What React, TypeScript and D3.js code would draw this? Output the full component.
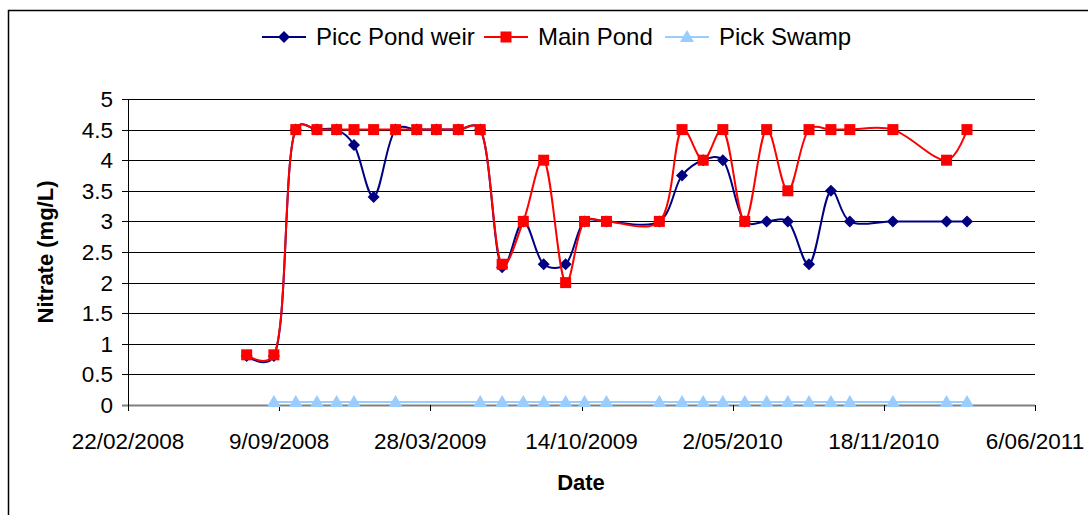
import React from "react";
import * as d3 from "d3";

// sample dates shared by Picc Pond weir and Main Pond
const sampleDates = [
  "28/07/2008", "02/09/2008", "01/10/2008", "29/10/2008", "24/11/2008", "17/12/2008",
  "12/01/2009", "10/02/2009", "10/03/2009", "05/04/2009", "04/05/2009", "02/06/2009",
  "01/07/2009", "29/07/2009", "25/08/2009", "23/09/2009", "18/10/2009", "16/11/2009",
  "25/01/2010", "24/02/2010", "24/03/2010", "19/04/2010", "18/05/2010", "16/06/2010",
  "14/07/2010", "11/08/2010", "09/09/2010", "04/10/2010", "30/11/2010", "09/02/2011",
  "08/03/2011",
];
const piccPondWeir = [
  0.8, 0.8, 4.5, 4.5, 4.5, 4.25, 3.4, 4.5, 4.5, 4.5, 4.5, 4.5, 2.25, 3, 2.3, 2.3, 3, 3,
  3, 3.75, 4, 4, 3, 3, 3, 2.3, 3.5, 3, 3, 3, 3,
];
const mainPond = [
  0.82, 0.82, 4.5, 4.5, 4.5, 4.5, 4.5, 4.5, 4.5, 4.5, 4.5, 4.5, 2.3, 3, 4, 2, 3, 3,
  3, 4.5, 4, 4.5, 3, 4.5, 3.5, 4.5, 4.5, 4.5, 4.5, 4, 4.5,
];
const pickSwampDates = [
  "02/09/2008", "01/10/2008", "29/10/2008", "24/11/2008", "17/12/2008", "10/02/2009",
  "02/06/2009", "01/07/2009", "29/07/2009", "25/08/2009", "23/09/2009", "18/10/2009",
  "16/11/2009", "25/01/2010", "24/02/2010", "24/03/2010", "19/04/2010", "18/05/2010",
  "16/06/2010", "14/07/2010", "11/08/2010", "09/09/2010", "04/10/2010", "30/11/2010",
  "09/02/2011", "08/03/2011",
];
const pickSwamp = [
  0.05, 0.05, 0.05, 0.05, 0.05, 0.05, 0.05, 0.05, 0.05, 0.05, 0.05, 0.05, 0.05,
  0.05, 0.05, 0.05, 0.05, 0.05, 0.05, 0.05, 0.05, 0.05, 0.05, 0.05, 0.05, 0.05,
];
const xTickDates = [
  "22/02/2008", "9/09/2008", "28/03/2009", "14/10/2009", "2/05/2010", "18/11/2010", "6/06/2011",
];
const yTicks = [0, 0.5, 1, 1.5, 2, 2.5, 3, 3.5, 4, 4.5, 5];

const parse = d3.timeParse("%d/%m/%Y");
const fmt = d3.timeFormat("%-d/%m/%Y");
const FONT = "'Liberation Sans', Arial, sans-serif";

type Pt = { date: Date; value: number };

const zip = (dates: string[], vals: number[]): Pt[] =>
  dates.map((d, i) => ({ date: parse(d) as Date, value: vals[i] }));

const series = [
  { name: "Picc Pond weir", color: "#000080", shape: "diamond", data: zip(sampleDates, piccPondWeir) },
  { name: "Main Pond", color: "#FF0000", shape: "square", data: zip(sampleDates, mainPond) },
  { name: "Pick Swamp", color: "#99CCFF", shape: "triangle", data: zip(pickSwampDates, pickSwamp) },
];

function Marker({ shape, x, y, color }: { shape: string; x: number; y: number; color: string }) {
  if (shape === "square") return <rect x={x - 5.5} y={y - 5.5} width={11} height={11} fill={color} />;
  if (shape === "diamond")
    return <path d={`M${x},${y - 6}L${x + 6},${y}L${x},${y + 6}L${x - 6},${y}Z`} fill={color} />;
  return <path d={`M${x},${y - 7}L${x + 7},${y + 5}L${x - 7},${y + 5}Z`} fill={color} />;
}

export default function App() {
  const width = 1088;
  const height = 515;
  const plot = { left: 128, right: 1035, top: 99, bottom: 405 };

  const tickDates = xTickDates.map((d) => parse(d) as Date);
  const x = d3
    .scaleTime()
    .domain([tickDates[0], tickDates[tickDates.length - 1]])
    .range([plot.left, plot.right]);
  const y = d3.scaleLinear().domain([0, 5]).range([plot.bottom, plot.top]);

  // Excel-style smoothed line
  const lineGen = d3
    .line<Pt>()
    .x((d) => x(d.date))
    .y((d) => y(d.value))
    .curve(d3.curveCatmullRom.alpha(0.3));

  // legend layout
  const legendY = 37;
  const legendX = [262, 484, 665];

  return (
    <>
      <style>{`body{margin:0}`}</style>
      <svg width={width} height={height} style={{ display: "block", background: "#fff" }} fontFamily={FONT}>
        {/* chart frame (cut off on the right and bottom) */}
        <rect x={8.5} y={10.5} width={1200} height={600} fill="none" stroke="#000" strokeWidth={1.5} />

        {/* gridlines */}
        {yTicks.map((t) => (
          <line
            key={t}
            x1={plot.left - 6}
            x2={plot.right}
            y1={Math.round(y(t)) + 0.5}
            y2={Math.round(y(t)) + 0.5}
            stroke={t === 0 ? "#808080" : "#000"}
            strokeWidth={t === 0 ? 2 : 1}
          />
        ))}
        {/* y axis */}
        <line x1={plot.left + 0.5} x2={plot.left + 0.5} y1={plot.top} y2={plot.bottom} stroke="#000" />
        {yTicks.map((t) => (
          <text key={t} x={plot.left - 15} y={y(t) + 8} textAnchor="end" fontSize={22.5} fill="#000">
            {t}
          </text>
        ))}
        {/* x axis ticks */}
        {tickDates.map((d, i) => (
          <g key={i}>
            <line
              x1={Math.round(x(d)) + 0.5}
              x2={Math.round(x(d)) + 0.5}
              y1={plot.bottom}
              y2={plot.bottom + 6}
              stroke="#000"
            />
            <text x={x(d)} y={449} textAnchor="middle" fontSize={22.5} fill="#000">
              {fmt(d)}
            </text>
          </g>
        ))}

        {/* axis titles */}
        <text x={581} y={490} textAnchor="middle" fontSize={22} fontWeight="bold">
          Date
        </text>
        <text
          transform={`translate(53,${(plot.top + plot.bottom) / 2}) rotate(-90)`}
          textAnchor="middle"
          fontSize={22}
          fontWeight="bold"
        >
          Nitrate (mg/L)
        </text>

        {/* series */}
        {series.map((s) => (
          <g key={s.name}>
            <path d={lineGen(s.data) || ""} fill="none" stroke={s.color} strokeWidth={2} />
            {s.data.map((p, i) => (
              <Marker key={i} shape={s.shape} x={x(p.date)} y={y(p.value)} color={s.color} />
            ))}
          </g>
        ))}

        {/* legend */}
        {series.map((s, i) => (
          <g key={s.name}>
            <line x1={legendX[i]} x2={legendX[i] + 44} y1={legendY} y2={legendY} stroke={s.color} strokeWidth={2} />
            <Marker shape={s.shape} x={legendX[i] + 22} y={legendY} color={s.color} />
            <text x={legendX[i] + 54} y={legendY + 8} fontSize={24} fill="#000">
              {s.name}
            </text>
          </g>
        ))}
      </svg>
    </>
  );
}
